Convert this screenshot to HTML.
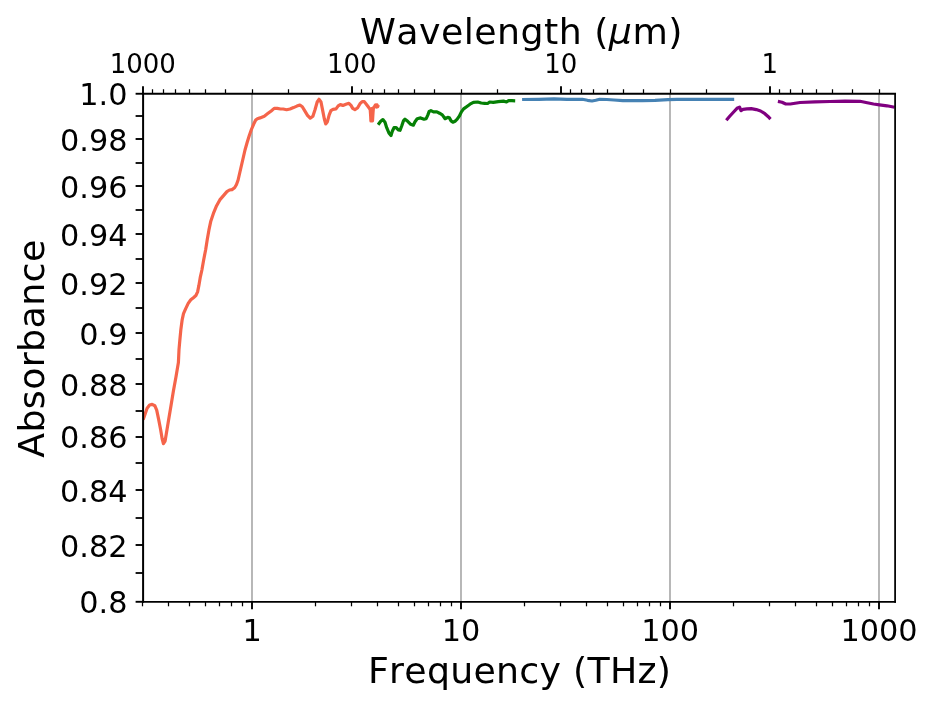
<!DOCTYPE html>
<html lang="en"><head><meta charset="utf-8"><title>Absorbance vs Frequency</title>
<style>html,body{margin:0;padding:0;background:#fff;overflow:hidden}svg{display:block}</style>
</head><body>
<svg width="933" height="706" viewBox="0 0 933 706">
<rect width="933" height="706" fill="#fff"/>
<line x1="252" y1="93.75" x2="252" y2="601.8" stroke="#b0b0b0" stroke-width="1.8"/>
<line x1="461" y1="93.75" x2="461" y2="601.8" stroke="#b0b0b0" stroke-width="1.8"/>
<line x1="670" y1="93.75" x2="670" y2="601.8" stroke="#b0b0b0" stroke-width="1.8"/>
<line x1="879" y1="93.75" x2="879" y2="601.8" stroke="#b0b0b0" stroke-width="1.8"/>
<clipPath id="c"><rect x="143.1" y="93.75" width="752.0" height="508.04999999999995"/></clipPath>
<g clip-path="url(#c)">
<polyline points="143.1,419.6 144.2,416.6 147.1,408.2 149.6,405.0 152.2,404.4 154.8,405.7 156.7,410.2 158.6,419.2 160.6,429.5 162.1,438.5 163.4,443.6 165.1,441.0 166.4,433.3 168.3,421.7 170.9,406.3 173.4,390.9 176.0,376.7 178.4,362.6 179.0,349.7 179.9,339.5 180.9,329.2 182.1,320.2 183.5,313.7 185.7,308.6 188.2,303.4 190.8,299.8 193.4,297.7 195.9,295.5 197.6,291.9 198.9,285.4 200.2,277.7 201.9,270.0 203.7,259.7 205.7,249.5 207.3,239.2 208.9,230.2 210.8,221.2 213.4,213.4 216.6,205.7 219.8,199.9 223.7,195.4 226.9,191.6 229.5,190.0 232.0,189.6 234.6,187.7 236.5,184.5 238.1,180.0 245.0,150.0 247.2,142.3 249.3,135.5 251.4,129.5 253.6,124.3 255.7,120.0 257.4,118.7 260.0,117.9 264.3,116.2 267.7,113.6 271.2,111.0 274.2,108.4 277.2,108.4 280.6,109.0 283.2,109.0 286.6,109.7 290.0,109.0 293.5,107.6 296.9,106.1 299.9,105.0 302.3,106.7 304.8,110.9 307.5,115.3 310.2,118.2 312.9,116.2 315.0,109.7 317.2,102.0 319.0,99.3 321.0,102.0 322.7,110.6 324.4,119.2 325.7,123.9 327.4,121.7 329.2,114.9 330.9,110.6 333.0,109.3 336.0,108.9 338.2,105.9 340.3,104.6 342.9,105.4 345.9,104.2 348.9,103.3 351.0,105.4 352.7,108.4 354.9,109.6 357.5,108.0 360.0,103.7 362.2,101.6 364.3,101.6 366.5,104.5 368.6,107.3 370.2,109.6 370.6,115.0 370.9,121.0 371.4,113.0 371.9,108.5 372.5,121.0 373.0,113.0 373.4,108.0 374.5,106.5 375.5,105.0 376.3,107.0 377.0,104.8 377.6,106.8 378.4,104.8" fill="none" stroke="#f5644a" stroke-width="3.2" stroke-linejoin="round" stroke-linecap="butt"/>
<polyline points="378.1,124.7 380.7,121.3 382.9,119.6 385.0,122.2 386.7,127.7 388.9,132.9 391.0,135.5 392.3,131.2 394.0,127.7 396.2,127.7 398.3,129.9 400.0,130.3 401.7,126.0 403.4,120.9 405.0,119.2 407.7,121.3 410.7,124.3 413.3,125.2 415.0,121.7 417.2,118.7 420.6,117.9 424.0,119.2 426.2,118.7 427.9,114.9 429.2,111.4 430.9,110.6 433.5,111.9 436.9,111.9 439.5,113.2 442.3,114.9 445.1,118.7 447.7,117.4 449.4,117.9 451.1,120.9 452.9,122.2 455.0,121.3 457.2,119.2 459.3,116.2 461.4,111.9 463.6,108.9 466.6,106.7 470.0,104.2 473.4,102.4 477.7,102.0 481.2,103.0 484.6,103.3 487.6,103.5 489.7,102.0 493.2,102.4 498.3,101.6 503.5,101.1 506.5,102.0 508.6,100.7 512.0,100.7 515.2,100.8" fill="none" stroke="#058005" stroke-width="3.2" stroke-linejoin="round" stroke-linecap="butt"/>
<polyline points="522.1,99.5 538.6,99.3 554.0,98.9 566.9,99.3 582.3,99.3 587.5,100.3 592.0,101.0 595.8,100.3 599.7,99.3 606.8,99.5 614.0,100.0 622.9,100.6 642.2,100.6 655.0,100.3 667.9,99.6 676.9,99.3 700.0,99.4 734.2,99.3" fill="none" stroke="#4682b4" stroke-width="3.2" stroke-linejoin="round" stroke-linecap="butt"/>
<polyline points="726.3,120.3 729.7,116.3 733.6,112.0 737.0,108.3 739.6,107.1 741.0,110.7 743.0,109.4 746.9,108.8 751.2,108.6 756.3,109.6 760.6,111.0 764.9,113.7 768.3,116.7 770.5,119.1" fill="none" stroke="#800080" stroke-width="3.2" stroke-linejoin="round" stroke-linecap="butt"/>
<polyline points="777.9,101.4 782.0,102.2 785.8,104.0 790.3,104.0 800.0,102.5 815.0,101.8 830.0,101.5 845.0,101.2 860.0,101.3 866.0,102.5 873.5,104.0 879.5,104.8 887.0,105.8 894.6,107.3" fill="none" stroke="#800080" stroke-width="3.2" stroke-linejoin="round" stroke-linecap="butt"/>
</g>
<g stroke="#000"><line x1="142.50" y1="601.8" x2="142.50" y2="606.3" stroke-width="1.25"/><line x1="168.50" y1="601.8" x2="168.50" y2="606.3" stroke-width="1.25"/><line x1="189.50" y1="601.8" x2="189.50" y2="606.3" stroke-width="1.25"/><line x1="205.50" y1="601.8" x2="205.50" y2="606.3" stroke-width="1.25"/><line x1="219.50" y1="601.8" x2="219.50" y2="606.3" stroke-width="1.25"/><line x1="231.50" y1="601.8" x2="231.50" y2="606.3" stroke-width="1.25"/><line x1="242.50" y1="601.8" x2="242.50" y2="606.3" stroke-width="1.25"/><line x1="252" y1="601.8" x2="252" y2="609.3" stroke-width="1.9"/><line x1="315.50" y1="601.8" x2="315.50" y2="606.3" stroke-width="1.25"/><line x1="351.50" y1="601.8" x2="351.50" y2="606.3" stroke-width="1.25"/><line x1="377.50" y1="601.8" x2="377.50" y2="606.3" stroke-width="1.25"/><line x1="398.50" y1="601.8" x2="398.50" y2="606.3" stroke-width="1.25"/><line x1="414.50" y1="601.8" x2="414.50" y2="606.3" stroke-width="1.25"/><line x1="428.50" y1="601.8" x2="428.50" y2="606.3" stroke-width="1.25"/><line x1="440.50" y1="601.8" x2="440.50" y2="606.3" stroke-width="1.25"/><line x1="451.50" y1="601.8" x2="451.50" y2="606.3" stroke-width="1.25"/><line x1="461" y1="601.8" x2="461" y2="609.3" stroke-width="1.9"/><line x1="524.50" y1="601.8" x2="524.50" y2="606.3" stroke-width="1.25"/><line x1="560.50" y1="601.8" x2="560.50" y2="606.3" stroke-width="1.25"/><line x1="586.50" y1="601.8" x2="586.50" y2="606.3" stroke-width="1.25"/><line x1="607.50" y1="601.8" x2="607.50" y2="606.3" stroke-width="1.25"/><line x1="623.50" y1="601.8" x2="623.50" y2="606.3" stroke-width="1.25"/><line x1="637.50" y1="601.8" x2="637.50" y2="606.3" stroke-width="1.25"/><line x1="649.50" y1="601.8" x2="649.50" y2="606.3" stroke-width="1.25"/><line x1="660.50" y1="601.8" x2="660.50" y2="606.3" stroke-width="1.25"/><line x1="670" y1="601.8" x2="670" y2="609.3" stroke-width="1.9"/><line x1="733.50" y1="601.8" x2="733.50" y2="606.3" stroke-width="1.25"/><line x1="769.50" y1="601.8" x2="769.50" y2="606.3" stroke-width="1.25"/><line x1="795.50" y1="601.8" x2="795.50" y2="606.3" stroke-width="1.25"/><line x1="816.50" y1="601.8" x2="816.50" y2="606.3" stroke-width="1.25"/><line x1="832.50" y1="601.8" x2="832.50" y2="606.3" stroke-width="1.25"/><line x1="846.50" y1="601.8" x2="846.50" y2="606.3" stroke-width="1.25"/><line x1="858.50" y1="601.8" x2="858.50" y2="606.3" stroke-width="1.25"/><line x1="869.50" y1="601.8" x2="869.50" y2="606.3" stroke-width="1.25"/><line x1="879" y1="601.8" x2="879" y2="609.3" stroke-width="1.9"/><line x1="879.50" y1="93.75" x2="879.50" y2="89.25" stroke-width="1.25"/><line x1="852.50" y1="93.75" x2="852.50" y2="89.25" stroke-width="1.25"/><line x1="832.50" y1="93.75" x2="832.50" y2="89.25" stroke-width="1.25"/><line x1="816.50" y1="93.75" x2="816.50" y2="89.25" stroke-width="1.25"/><line x1="802.50" y1="93.75" x2="802.50" y2="89.25" stroke-width="1.25"/><line x1="790.50" y1="93.75" x2="790.50" y2="89.25" stroke-width="1.25"/><line x1="779.50" y1="93.75" x2="779.50" y2="89.25" stroke-width="1.25"/><line x1="770.00" y1="93.75" x2="770.00" y2="86.25" stroke-width="1.9"/><line x1="706.50" y1="93.75" x2="706.50" y2="89.25" stroke-width="1.25"/><line x1="670.50" y1="93.75" x2="670.50" y2="89.25" stroke-width="1.25"/><line x1="643.50" y1="93.75" x2="643.50" y2="89.25" stroke-width="1.25"/><line x1="623.50" y1="93.75" x2="623.50" y2="89.25" stroke-width="1.25"/><line x1="607.50" y1="93.75" x2="607.50" y2="89.25" stroke-width="1.25"/><line x1="593.50" y1="93.75" x2="593.50" y2="89.25" stroke-width="1.25"/><line x1="581.50" y1="93.75" x2="581.50" y2="89.25" stroke-width="1.25"/><line x1="570.50" y1="93.75" x2="570.50" y2="89.25" stroke-width="1.25"/><line x1="561.00" y1="93.75" x2="561.00" y2="86.25" stroke-width="1.9"/><line x1="497.50" y1="93.75" x2="497.50" y2="89.25" stroke-width="1.25"/><line x1="461.50" y1="93.75" x2="461.50" y2="89.25" stroke-width="1.25"/><line x1="434.50" y1="93.75" x2="434.50" y2="89.25" stroke-width="1.25"/><line x1="414.50" y1="93.75" x2="414.50" y2="89.25" stroke-width="1.25"/><line x1="398.50" y1="93.75" x2="398.50" y2="89.25" stroke-width="1.25"/><line x1="384.50" y1="93.75" x2="384.50" y2="89.25" stroke-width="1.25"/><line x1="372.50" y1="93.75" x2="372.50" y2="89.25" stroke-width="1.25"/><line x1="361.50" y1="93.75" x2="361.50" y2="89.25" stroke-width="1.25"/><line x1="352.00" y1="93.75" x2="352.00" y2="86.25" stroke-width="1.9"/><line x1="288.50" y1="93.75" x2="288.50" y2="89.25" stroke-width="1.25"/><line x1="252.50" y1="93.75" x2="252.50" y2="89.25" stroke-width="1.25"/><line x1="225.50" y1="93.75" x2="225.50" y2="89.25" stroke-width="1.25"/><line x1="205.50" y1="93.75" x2="205.50" y2="89.25" stroke-width="1.25"/><line x1="189.50" y1="93.75" x2="189.50" y2="89.25" stroke-width="1.25"/><line x1="175.50" y1="93.75" x2="175.50" y2="89.25" stroke-width="1.25"/><line x1="163.50" y1="93.75" x2="163.50" y2="89.25" stroke-width="1.25"/><line x1="152.50" y1="93.75" x2="152.50" y2="89.25" stroke-width="1.25"/><line x1="143.00" y1="93.75" x2="143.00" y2="86.25" stroke-width="1.9"/><line x1="143.1" y1="601.80" x2="135.6" y2="601.80" stroke-width="1.9"/><line x1="143.1" y1="573.00" x2="135.6" y2="573.00" stroke-width="1.8"/><line x1="143.1" y1="545.00" x2="135.6" y2="545.00" stroke-width="1.9"/><line x1="143.1" y1="518.00" x2="135.6" y2="518.00" stroke-width="1.8"/><line x1="143.1" y1="490.00" x2="135.6" y2="490.00" stroke-width="1.9"/><line x1="143.1" y1="463.00" x2="135.6" y2="463.00" stroke-width="1.8"/><line x1="143.1" y1="437.00" x2="135.6" y2="437.00" stroke-width="1.9"/><line x1="143.1" y1="411.00" x2="135.6" y2="411.00" stroke-width="1.8"/><line x1="143.1" y1="384.00" x2="135.6" y2="384.00" stroke-width="1.9"/><line x1="143.1" y1="359.00" x2="135.6" y2="359.00" stroke-width="1.8"/><line x1="143.1" y1="333.00" x2="135.6" y2="333.00" stroke-width="1.9"/><line x1="143.1" y1="308.00" x2="135.6" y2="308.00" stroke-width="1.8"/><line x1="143.1" y1="283.00" x2="135.6" y2="283.00" stroke-width="1.9"/><line x1="143.1" y1="259.00" x2="135.6" y2="259.00" stroke-width="1.8"/><line x1="143.1" y1="234.00" x2="135.6" y2="234.00" stroke-width="1.9"/><line x1="143.1" y1="210.00" x2="135.6" y2="210.00" stroke-width="1.8"/><line x1="143.1" y1="186.00" x2="135.6" y2="186.00" stroke-width="1.9"/><line x1="143.1" y1="163.00" x2="135.6" y2="163.00" stroke-width="1.8"/><line x1="143.1" y1="139.00" x2="135.6" y2="139.00" stroke-width="1.9"/><line x1="143.1" y1="116.00" x2="135.6" y2="116.00" stroke-width="1.8"/><line x1="143.1" y1="93.75" x2="135.6" y2="93.75" stroke-width="1.9"/></g>
<g stroke="#000" stroke-linecap="square"><line x1="143.1" y1="93.75" x2="143.1" y2="601.8" stroke-width="2.0"/><line x1="895.1" y1="93.75" x2="895.1" y2="601.8" stroke-width="1.75"/><line x1="143.1" y1="93.75" x2="895.1" y2="93.75" stroke-width="1.85"/><line x1="143.1" y1="601.8" x2="895.1" y2="601.8" stroke-width="1.8"/></g>
<g font-family="DejaVu Sans, Liberation Sans, sans-serif" fill="#000" style="font-kerning:none">
<text x="521.4" y="43.6" font-size="36.3" text-anchor="middle" letter-spacing="0.47">Wavelength (<tspan font-style="oblique">μ</tspan>m)</text>
<text x="142.8" y="72.5" font-size="26" text-anchor="middle">1000</text>
<text x="351.8" y="72.5" font-size="26" text-anchor="middle">100</text>
<text x="560.8" y="72.5" font-size="26" text-anchor="middle">10</text>
<text x="769.8" y="72.5" font-size="26" text-anchor="middle">1</text>
<text x="252.1" y="640.5" font-size="30.3" text-anchor="middle">1</text>
<text x="461.1" y="640.5" font-size="30.3" text-anchor="middle">10</text>
<text x="670.1" y="640.5" font-size="30.3" text-anchor="middle">100</text>
<text x="879.1" y="640.5" font-size="30.3" text-anchor="middle">1000</text>
<text x="127.5" y="613.1" font-size="30.3" text-anchor="end">0.8</text>
<text x="127.5" y="556.9" font-size="30.3" text-anchor="end">0.82</text>
<text x="127.5" y="502.0" font-size="30.3" text-anchor="end">0.84</text>
<text x="127.5" y="448.4" font-size="30.3" text-anchor="end">0.86</text>
<text x="127.5" y="396.1" font-size="30.3" text-anchor="end">0.88</text>
<text x="127.5" y="344.9" font-size="30.3" text-anchor="end">0.9</text>
<text x="127.5" y="294.9" font-size="30.3" text-anchor="end">0.92</text>
<text x="127.5" y="245.9" font-size="30.3" text-anchor="end">0.94</text>
<text x="127.5" y="198.0" font-size="30.3" text-anchor="end">0.96</text>
<text x="127.5" y="151.0" font-size="30.3" text-anchor="end">0.98</text>
<text x="127.5" y="105.0" font-size="30.3" text-anchor="end">1.0</text>
<text x="519.6" y="682.5" font-size="36.3" text-anchor="middle" letter-spacing="0.26">Frequency (THz)</text>
<text transform="translate(43.6,348.6) rotate(-90)" font-size="36.3" text-anchor="middle" letter-spacing="0.4">Absorbance</text>
</g>
</svg>
</body></html>
